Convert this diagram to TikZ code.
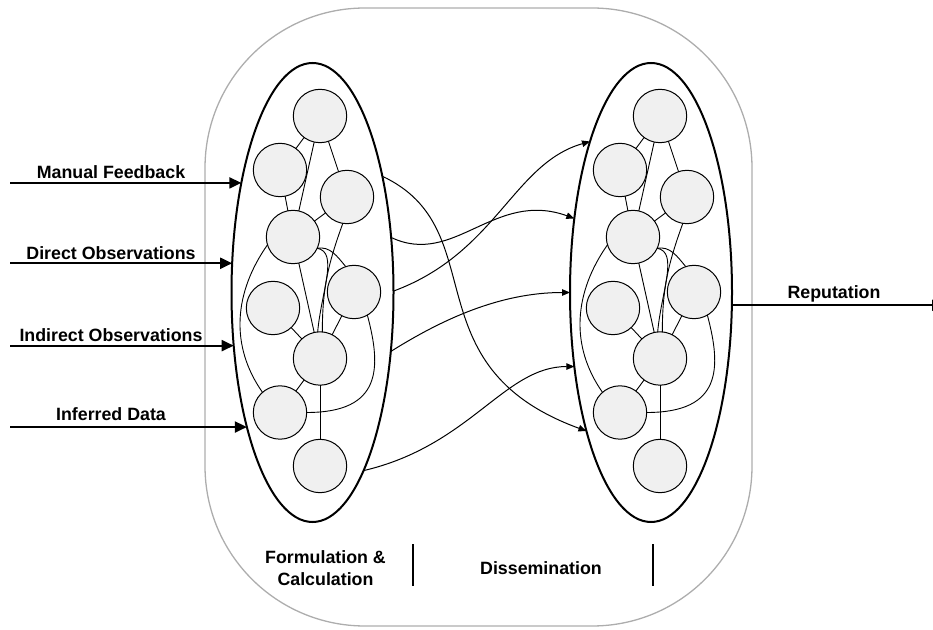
\documentclass[tikz,border=0pt]{standalone}
\usepackage{fontspec}
\setmainfont{Liberation Sans}
\usetikzlibrary{shapes.geometric,arrows.meta}
\definecolor{cfill}{HTML}{F0F0F0}
\definecolor{framegray}{HTML}{ADADAD}
\begin{document}
\begin{tikzpicture}[x=1pt,y=1pt,
  lbl/.style={font=\fontsize{17.8}{21}\selectfont\bfseries, inner sep=0pt, anchor=base},
  frame/.style={draw=framegray, line width=1.3pt, rounded corners=160pt, minimum width=547pt, minimum height=618pt, inner sep=0pt, outer sep=0pt},
  group/.style={ellipse, draw, line width=2pt, minimum width=162pt, minimum height=459pt, inner sep=0pt, outer sep=0pt},
  dot/.style={circle, draw, fill=cfill, line width=1pt, minimum size=53.4pt, inner sep=0pt, outer sep=0pt},
  link/.style={line width=0.9pt},
  inarrow/.style={line width=2pt, -{Triangle[length=12pt,width=11pt]}},
  xarrow/.style={line width=1pt, -{Triangle[length=8pt,width=6.5pt]}},
  sepbar/.style={line width=2pt}
]
\path[use as bounding box, clip] (0,0) rectangle (933,629);
\node[frame] (frame) at (478.5,312) {};
\node[group] (L) at (312.5,336.5) {};
\node[group] (R) at (651,336.5) {};
\foreach \p/\dx in {a/0, b/340} {
  \node[dot] (\p1) at ({320+\dx},513) {};
  \node[dot] (\p2) at ({280+\dx},459) {};
  \node[dot] (\p3) at ({347+\dx},432) {};
  \node[dot] (\p4) at ({293+\dx},392) {};
  \node[dot] (\p5) at ({273+\dx},321) {};
  \node[dot] (\p6) at ({354+\dx},337) {};
  \node[dot] (\p7) at ({320+\dx},270.5) {};
  \node[dot] (\p8) at ({280+\dx},216.5) {};
  \node[dot] (\p9) at ({320+\dx},163) {};
  \draw[link] (\p1) -- (\p2);
  \draw[link] (\p1) -- (\p3);
  \draw[link] (\p1) -- (\p4);
  \draw[link] (\p2) -- (\p4);
  \draw[link] (\p3) -- (\p4);
  \draw[link] (\p4) -- (\p7);
  \draw[link] (\p5) -- (\p7);
  \draw[link] (\p6) -- (\p7);
  \draw[link] (\p7) -- (\p8);
  \draw[link] (\p7) -- (\p9);
  \draw[link] (\p4.335) to[out=10,in=130] (\p6.108);
  \draw[link] (\p4.335) to[out=-10,in=85,out distance=22pt,in distance=40pt] (\p7.95);
  \draw[link] (\p3.261) to[out=250,in=90] (\p7.85);
  \draw[link] (\p4.197) to[out=235,in=125] (\p8.131);
  \draw[link] (\p6.300) to[out=285,in=0,out distance=55pt,in distance=75pt] (\p8.0);
}
% cross connectors
\draw[xarrow] (L.59) .. controls +(113,-53) and +(-178,65) .. (R.245);
\draw[xarrow] (L.35) .. controls +(63,-30) and +(-80,29) .. (R.136);
\draw[xarrow] (L.1) .. controls +(103,38) and +(-77,-22) .. (R.112);
\draw[xarrow] (L.323) .. controls +(51,32) and +(-70,0) .. (R.180);
\draw[xarrow] (L.286) .. controls +(107,25) and +(-70,0) .. (R.224);
% inputs
\coordinate (src) at (10,0);
\draw[inarrow] (src |- L.123) -- (L.123);
\draw[inarrow] (src |- L.160) -- (L.160);
\draw[inarrow] (src |- L.214) -- (L.214);
\draw[inarrow] (src |- L.244) -- (L.244);
\node[lbl] (mf) at (111,450) {Manual Feedback};
\node[lbl] (dob) at (111,369) {Direct Observations};
\node[lbl] (iob) at (111,287) {Indirect Observations};
\node[lbl] (idt) at (111,208) {Inferred Data};
% output
\coordinate (sink) at (944,0);
\draw[inarrow] (R.351) -- (R.351 -| sink);
\node[lbl] (rep) at (834,330) {Reputation};
% bottom labels
\node[lbl] (fc1) at (325.5,66) {Formulation \&};
\node[lbl] (fc2) at (325.5,44) {Calculation};
\node[lbl] (dis) at (541,55) {Dissemination};
\coordinate (b1t) at (412.7,85);
\coordinate (b1b) at (412.7,43);
\coordinate (b2t) at (652.7,85);
\coordinate (b2b) at (652.7,43);
\draw[sepbar] (b1t) -- (b1b);
\draw[sepbar] (b2t) -- (b2b);
\end{tikzpicture}
\end{document}
